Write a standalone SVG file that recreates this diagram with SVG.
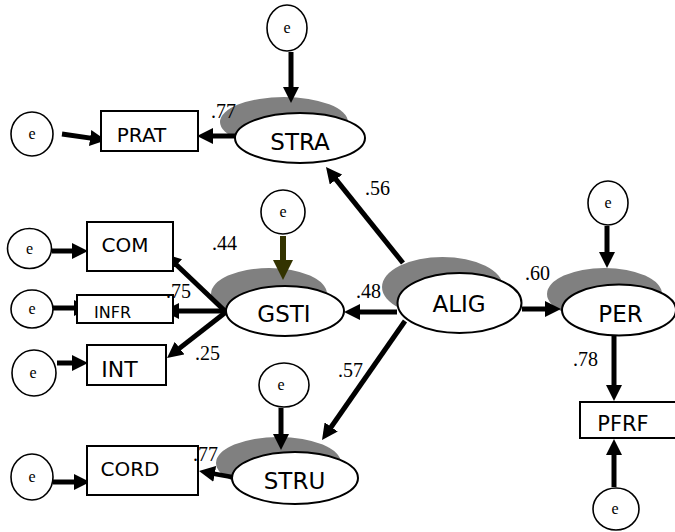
<svg xmlns="http://www.w3.org/2000/svg" width="675" height="532" viewBox="0 0 675 532">
<style>
.sh{fill:#808080;stroke:none}
.lat{fill:#fff;stroke:#000;stroke-width:2}
.err{fill:#fff;stroke:#000;stroke-width:1.6}
.box{fill:#fff;stroke:#000;stroke-width:2}
.lt{font-family:"DejaVu Sans",Verdana,sans-serif;font-size:23px;text-anchor:middle;fill:#000}
.bt{font-family:"DejaVu Sans",Verdana,sans-serif;font-size:20px;text-anchor:middle;fill:#000}
.et{font-family:"Liberation Serif","Times New Roman",serif;font-size:16px;text-anchor:middle;fill:#000}
.nt{font-family:"Liberation Serif","Times New Roman",serif;font-size:20px;fill:#000}
.c{stroke:#000;stroke-width:5;fill:none;marker-end:url(#ah)}
.co{stroke:#333300;stroke-width:6;fill:none;marker-end:url(#aho)}
</style>
<defs>
<marker id="ah" markerUnits="userSpaceOnUse" markerWidth="16" markerHeight="16" refX="4" refY="8" orient="auto">
<path d="M0,0 L16,8 L0,16 z" fill="#000"/>
</marker>
<marker id="aho" markerUnits="userSpaceOnUse" markerWidth="20" markerHeight="20" refX="5" refY="10" orient="auto">
<path d="M0,0 L20,10 L0,20 z" fill="#333300"/>
</marker>
</defs>

<g id="shadows">
<ellipse class="sh" cx="284" cy="122" rx="64" ry="25"/>
<ellipse class="sh" cx="269" cy="294" rx="58" ry="26"/>
<ellipse class="sh" cx="442.5" cy="287" rx="60.5" ry="30"/>
<ellipse class="sh" cx="604.5" cy="294" rx="57.5" ry="26"/>
<ellipse class="sh" cx="278.5" cy="463" rx="62.5" ry="26"/>
</g>

<g id="connectors">
<line class="c" x1="291" y1="52" x2="291" y2="91"/>
<line class="c" x1="62" y1="134" x2="94.1" y2="138.6"/>
<line class="c" x1="235" y1="136" x2="209" y2="136"/>
<line class="c" x1="52" y1="251" x2="76" y2="251"/>
<line class="c" x1="53" y1="308" x2="78" y2="308"/>
<line class="c" x1="57" y1="363" x2="76" y2="363"/>
<line class="c" x1="53" y1="482" x2="78" y2="482"/>
<line class="c" x1="226" y1="312" x2="173.7" y2="262.3"/>
<line class="c" x1="226" y1="311" x2="175" y2="311"/>
<line class="c" x1="226" y1="312" x2="176.5" y2="350.6"/>
<line class="co" x1="283" y1="236" x2="283" y2="265"/>
<line class="c" x1="397" y1="312" x2="356" y2="312"/>
<line class="c" x1="403" y1="263" x2="333.5" y2="176.4"/>
<line class="c" x1="522" y1="309" x2="549" y2="309"/>
<line class="c" x1="405" y1="321" x2="328.9" y2="430.2"/>
<line class="c" x1="607" y1="226" x2="607" y2="256"/>
<line class="c" x1="614" y1="336" x2="614" y2="389"/>
<line class="c" x1="614" y1="487" x2="614" y2="451"/>
<line class="c" x1="281" y1="408" x2="281" y2="438"/>
<line class="c" x1="232" y1="477" x2="210.8" y2="473.2" style="stroke-width:4.5"/>
</g>

<g id="STRA"><ellipse class="lat" cx="300" cy="138" rx="65" ry="25"/><text class="lt" x="300" y="150">STRA</text></g>
<g id="GSTI"><ellipse class="lat" cx="285" cy="311" rx="59" ry="25"/><text class="lt" x="284" y="322">GSTI</text></g>
<g id="ALIG"><ellipse class="lat" cx="459.5" cy="303" rx="62" ry="30"/><text class="lt" x="459" y="312">ALIG</text></g>
<g id="PER"><ellipse class="lat" cx="619" cy="310" rx="57" ry="25.5"/><text class="lt" x="620.5" y="322">PER</text></g>
<g id="STRU"><ellipse class="lat" cx="295" cy="478" rx="63" ry="26"/><text class="lt" x="294.5" y="489">STRU</text></g>

<g id="PRAT"><rect class="box" x="101" y="111" width="97" height="40"/><text class="bt" x="141.5" y="142">PRAT</text></g>
<g id="COM"><rect class="box" x="87" y="222" width="86" height="49"/><text class="bt" x="125" y="252">COM</text></g>
<g id="INFR"><rect class="box" x="77" y="295" width="96" height="28"/><text class="bt" x="112.5" y="318" style="font-size:16px">INFR</text></g>
<g id="INT"><rect class="box" x="87" y="345" width="79" height="40"/><text class="bt" x="119.5" y="377" style="font-size:22px">INT</text></g>
<g id="CORD"><rect class="box" x="87" y="446" width="111" height="49"/><text class="bt" x="130" y="476">CORD</text></g>
<g id="PFRF"><rect class="box" x="580" y="402" width="96" height="36"/><text class="bt" x="623" y="431" style="font-size:21px">PFRF</text></g>

<g id="e_STRA"><ellipse class="err" cx="287" cy="28" rx="20" ry="23"/><text class="et" x="287" y="33">e</text></g>
<g id="e_PRAT"><ellipse class="err" cx="32" cy="134" rx="21" ry="22"/><text class="et" x="32" y="139">e</text></g>
<g id="e_COM"><ellipse class="err" cx="29.5" cy="248.5" rx="22" ry="20"/><text class="et" x="29.5" y="253.5">e</text></g>
<g id="e_INFR"><ellipse class="err" cx="32" cy="309" rx="21" ry="19"/><text class="et" x="32" y="314">e</text></g>
<g id="e_INT"><ellipse class="err" cx="34" cy="373" rx="22" ry="23"/><text class="et" x="33" y="378">e</text></g>
<g id="e_GSTI"><ellipse class="err" cx="283" cy="212" rx="22" ry="22"/><text class="et" x="283" y="217">e</text></g>
<g id="e_PER"><ellipse class="err" cx="608" cy="203" rx="20" ry="22"/><text class="et" x="608" y="208">e</text></g>
<g id="e_STRU"><ellipse class="err" cx="284" cy="385" rx="25" ry="22"/><text class="et" x="281" y="390">e</text></g>
<g id="e_CORD"><ellipse class="err" cx="32" cy="477" rx="21" ry="23"/><text class="et" x="32" y="482">e</text></g>
<g id="e_PFRF"><ellipse class="err" cx="616" cy="509" rx="23" ry="21"/><text class="et" x="615" y="514">e</text></g>

<g id="labels">
<text class="nt" x="211" y="118">.77</text>
<text class="nt" x="193" y="461">.77</text>
<text class="nt" x="365" y="195">.56</text>
<text class="nt" x="212" y="250">.44</text>
<text class="nt" x="166" y="298">.75</text>
<text class="nt" x="356" y="298">.48</text>
<text class="nt" x="195" y="360">.25</text>
<text class="nt" x="525" y="280">.60</text>
<text class="nt" x="338" y="377">.57</text>
<text class="nt" x="573" y="366">.78</text>
</g>
</svg>
